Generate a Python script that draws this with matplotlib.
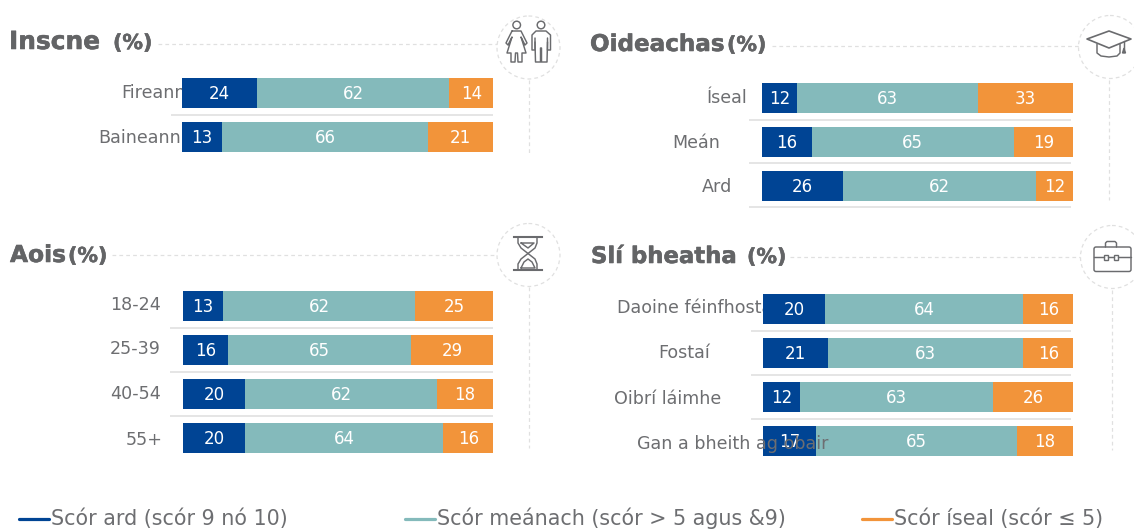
import matplotlib
matplotlib.use("Agg")
import matplotlib.pyplot as plt
import matplotlib.patheffects as pe
from matplotlib.patches import Circle, Polygon, Rectangle, FancyBboxPatch
import numpy as np

W, H = 1134, 529
NAVY, TEAL, ORANGE = "#004494", "#84BABB", "#F2943A"
TXT = "#6D6E71"
HEAD = "#636466"
ICON = "#6A6B6E"
DASH = "#E0E0E0"

gender_labels = ["Fireann", "Baineann"]
gender_high = [24, 13]
gender_mid = [62, 66]
gender_low = [14, 21]

edu_labels = ["Íseal", "Meán", "Ard"]
edu_high = [12, 16, 26]
edu_mid = [63, 65, 62]
edu_low = [33, 19, 12]

age_labels = ["18-24", "25-39", "40-54", "55+"]
age_high = [13, 16, 20, 20]
age_mid = [62, 65, 62, 64]
age_low = [25, 29, 18, 16]

job_labels = ["Daoine féinfhosta", "Fostaí", "Oibrí láimhe", "Gan a bheith ag obair"]
job_high = [20, 21, 12, 17]
job_mid = [64, 63, 63, 65]
job_low = [16, 16, 26, 18]

legend_labels = ["Scór ard (scór 9 nó 10)", "Scór meánach (scór > 5 agus &9)", "Scór íseal (scór ≤ 5)"]

plt.rcParams["font.family"] = ["DejaVu Sans"]
fig = plt.figure(figsize=(W / 100, H / 100), dpi=100, facecolor="white")
ov = fig.add_axes([0, 0, 1, 1], zorder=0)
ov.set_xlim(0, W)
ov.set_ylim(H, 0)
ov.axis("off")


def panel(x0, x1, top, labels, high, mid, low, label_x, label_y, seps, sep_x0, sep_x1, over=()):
    n = len(labels)
    pitch, bh = 44, 30
    height = (n - 1) * pitch + bh
    ax = fig.add_axes([x0 / W, 1 - (top + height) / H, (x1 - x0) / W, height / H], zorder=2)
    ax.patch.set_alpha(0)
    half = bh / pitch / 2
    ax.set_ylim(n - 1 + half, -half)
    ax.set_xlim(0, 1)
    ax.axis("off")
    y = np.arange(n)
    hi, mi, lo = [np.array(v, float) for v in (high, mid, low)]
    tot = hi + mi + lo
    left = np.zeros(n)
    for vals, col in ((hi, NAVY), (mi, TEAL), (lo, ORANGE)):
        frac = vals / tot
        ax.barh(y, frac, left=left, height=bh / pitch, color=col, zorder=3, linewidth=0)
        for i in range(n):
            ax.text(left[i] + frac[i] / 2, y[i] + 0.03, f"{int(vals[i])}", color="white",
                    ha="center", va="center", fontsize=12, zorder=4)
        left += frac
    for i, lab in enumerate(labels):
        ax.text(label_x[i], label_y[i], lab, color=TXT, fontsize=12.6,
                ha="left", va="baseline", transform=ov.transData, clip_on=False,
                zorder=6 if i in over else 1)
    for s in seps:
        ov.plot([sep_x0, sep_x1], [s, s], color="#DEDEDE", lw=1.1, solid_capstyle="butt")


panel(182, 493, 78, gender_labels, gender_high, gender_mid, gender_low, [121, 98], [98, 143], [115], 171, 493)
panel(762, 1073, 83, edu_labels, edu_high, edu_mid, edu_low, [707, 672, 702], [103, 148, 192], [119.5, 163, 207], 749, 1071)
panel(183, 493, 291, age_labels, age_high, age_mid, age_low, [110, 110, 110, 126], [310, 354, 399, 445], [328, 372, 415.5], 170, 493)
panel(763, 1073, 294, job_labels, job_high, job_mid, job_low, [617, 658, 614, 637], [313, 358, 404, 449], [331, 375, 418.5], 751, 1071, over=(3,))

stroke = [pe.withStroke(linewidth=0.4, foreground=HEAD)]


def head(x, y, s, xp, yp, size):
    ov.text(x, y, s, fontsize=size, fontweight="bold", color=HEAD, ha="left", va="baseline", path_effects=stroke)
    ov.text(xp, yp, "(%)", fontsize=14.8, fontweight="bold", color=HEAD, ha="left", va="baseline", path_effects=stroke)


head(9, 49, "Inscne", 113, 49, 17.9)
head(590, 51, "Oideachas", 727, 51, 16.6)
head(10, 262, "Aois", 68, 262, 16.8)
head(591, 263, "Slí bheatha", 747, 263, 16.4)

dash_kw = dict(color=DASH, lw=0.9, ls=(0, (3, 2.5)))
for xa, xb, y in ((158, 497, 44), (772, 1079, 46), (112, 497, 255), (790, 1080, 257)):
    ov.plot([xa, xb], [y, y], **dash_kw)
for x, ya, yb in ((529, 80, 153), (1109, 80, 200), (529, 287, 448), (1112, 290, 450)):
    ov.plot([x, x], [ya, yb], **dash_kw)
for cx, cy in ((528.5, 47.5), (1110, 47), (528.5, 255), (1112, 257)):
    ov.add_patch(Circle((cx, cy), 31.5, fill=False, ec=DASH, lw=0.9, ls=(0, (3, 2.5))))

ik = dict(color=ICON, lw=1.05, solid_capstyle="round", solid_joinstyle="round")
# people
ov.add_patch(Circle((516.7, 25), 3.8, fill=False, ec=ICON, lw=1.05))
ov.plot([512, 521, 527, 525, 521, 526, 522, 522, 518, 517.5, 515.5, 515, 511, 511, 507, 512, 508, 506, 512],
        [31, 31, 43, 45, 37, 53, 53, 62, 62, 53, 53, 62, 62, 53, 53, 37, 45, 43, 31], **ik)
ov.add_patch(Circle((541, 25), 3.8, fill=False, ec=ICON, lw=1.05))
ov.plot([547.5, 547.5, 550.5, 550.5, 546, 536, 532, 532, 535, 535],
        [38, 50, 50, 35, 31, 31, 35, 50, 50, 38], **ik)
ov.plot([535, 535.5, 540.5, 540.5, 541.5, 541.5, 547, 547.5],
        [42, 62, 62, 48, 48, 62, 62, 42], **ik)
# cap
ov.add_patch(Polygon([(1087, 39), (1109, 31), (1131, 39), (1109, 48)], fill=False, ec=ICON, lw=1.2, joinstyle="round"))
ov.plot([1097, 1097, 1101, 1109, 1117, 1120, 1120], [44, 53, 56, 57, 56, 53, 44], **ik)
ov.plot([1124, 1124], [41, 49], **ik)
ov.add_patch(Polygon([(1122.5, 53), (1124, 48), (1125.5, 53)], fc=ICON, ec=ICON, lw=1))
# hourglass
ov.plot([514, 542], [237, 237], color=ICON, lw=1.5)
ov.plot([514, 542], [270, 270], color=ICON, lw=1.5)
ov.plot([518, 518, 521, 528, 535, 537, 537], [237, 243, 248, 253.5, 259, 264, 270], **ik)
ov.plot([537, 537, 535, 528, 521, 518, 518], [237, 243, 248, 253.5, 259, 264, 270], **ik)
ov.plot([521, 534, 528, 521], [243, 243, 248, 243], **ik)
ov.plot([521, 524, 528, 532, 535, 521], [268, 262, 259, 262, 268, 268], **ik)
# briefcase
ov.add_patch(FancyBboxPatch((1094, 247), 37, 24.5, boxstyle="round,pad=0,rounding_size=2", fill=False, ec=ICON, lw=1.05))
ov.plot([1105.5, 1105.5, 1107, 1115, 1116.5, 1116.5], [247, 243, 241.5, 241.5, 243, 247], **ik)
ov.plot([1094, 1104], [257, 257], **ik)
ov.plot([1108, 1114], [257, 257], **ik)
ov.plot([1118, 1131], [257, 257], **ik)
for x in (1104, 1114):
    ov.add_patch(Rectangle((x, 255), 4, 4.5, fill=False, ec=ICON, lw=1.0))

# legend
for xa, col, s in zip((19, 405, 862), (NAVY, TEAL, ORANGE), legend_labels):
    ov.plot([xa, xa + 30], [519, 519], color=col, lw=2.3, solid_capstyle="round")
    ov.text(xa + 32, 525, s, color=TXT, fontsize=14.9, ha="left", va="baseline")

fig.savefig("out.png", dpi=100)
